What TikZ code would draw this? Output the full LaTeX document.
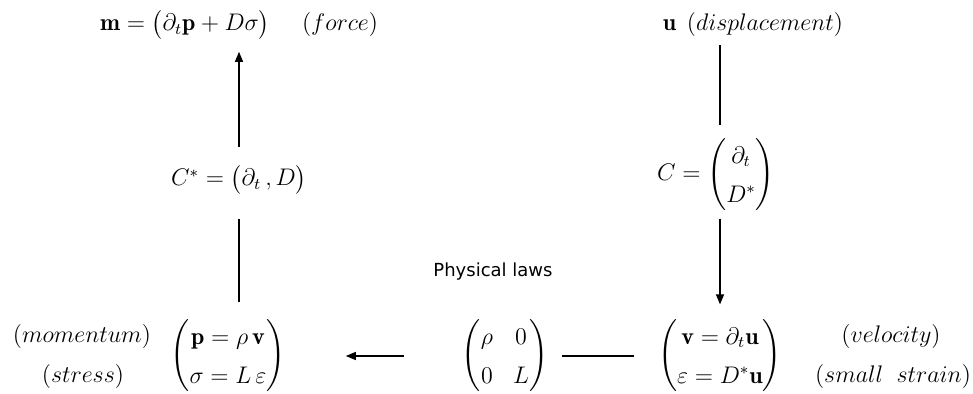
\documentclass[tikz,border=0pt]{standalone}
\usepackage{amsmath,amssymb}
\usepackage{fontspec}
\newfontfamily\labelfont{DejaVu Sans}
\usepackage{tikz}
\usetikzlibrary{arrows.meta,positioning,calc}
\definecolor{ink}{RGB}{0,0,0}
\renewcommand{\arraystretch}{1.4}

\begin{document}
\begin{tikzpicture}[x=0.5pt,y=-0.5pt,
   eqnode/.style={inner sep=0pt,font=\large},
   lblnode/.style={inner sep=0pt,font=\large},
   link/.style={ink,semithick},
   flow/.style={ink,semithick,-{Triangle[length=5pt,width=4pt]}}]
  \useasboundingbox (0,0) rectangle (973,394);
  % top row
  \node[eqnode] (force) at (185,25) {$\mathbf{m}=\bigl(\partial_t\mathbf{p}+D\sigma\bigr)$};
  \node[lblnode] (forcelbl) at (340,25) {$(force)$};
  \node[eqnode] (disp) at (753,25) {$\mathbf{u}\;\,(displacement)$};
  % operators
  \node[eqnode] (cstar) at (239,180) {$C^{*}=\bigl(\partial_t\,,D\bigr)$};
  \node[eqnode] (cop) at (716,175) {$C=\begin{pmatrix}\partial_t\\ D^{*}\end{pmatrix}$};
  % bottom row
  \node[eqnode] (stress) at (228,356) {$\begin{pmatrix}\mathbf{p}=\rho\,\mathbf{v}\\ \sigma=L\,\varepsilon\end{pmatrix}$};
  \node[lblnode] (momlbl) at (82,337) {$(momentum)$};
  \node[lblnode] (stresslbl) at (83,377) {$(stress)$};
  \node[eqnode] (laws) at (505,356) {$\begin{pmatrix}\rho & 0\\ 0 & L\end{pmatrix}$};
  \node[font=\labelfont\small,inner sep=0pt] (lawslbl) at (493,272) {Physical laws};
  \node[eqnode] (strain) at (720,356) {$\begin{pmatrix}\mathbf{v}=\partial_t\mathbf{u}\\ \varepsilon=D^{*}\mathbf{u}\end{pmatrix}$};
  \node[lblnode] (vellbl) at (891,337) {$(velocity)$};
  \node[lblnode] (strainlbl) at (893,377) {$(small\;\;strain)$};
  % connectors
  \draw[flow,shorten <=9pt,shorten >=6pt] (cstar.north) -- (cstar.north |- force.south);
  \draw[link,shorten <=12pt,shorten >=7pt] (cstar.south) -- (cstar.south |- stress.north);
  \draw[link,shorten <=4pt,shorten >=5pt] (disp.south -| strain.north) -- (cop.north -| strain.north);
  \draw[flow,shorten <=2pt,shorten >=6pt] (cop.south -| strain.north) -- (strain.north);
  \draw[link,shorten <=7pt,shorten >=12pt] (laws.east) -- (strain.west);
  \draw[flow,shorten <=29pt,shorten >=30pt] (laws.west) -- (stress.east);
\end{tikzpicture}
\end{document}
